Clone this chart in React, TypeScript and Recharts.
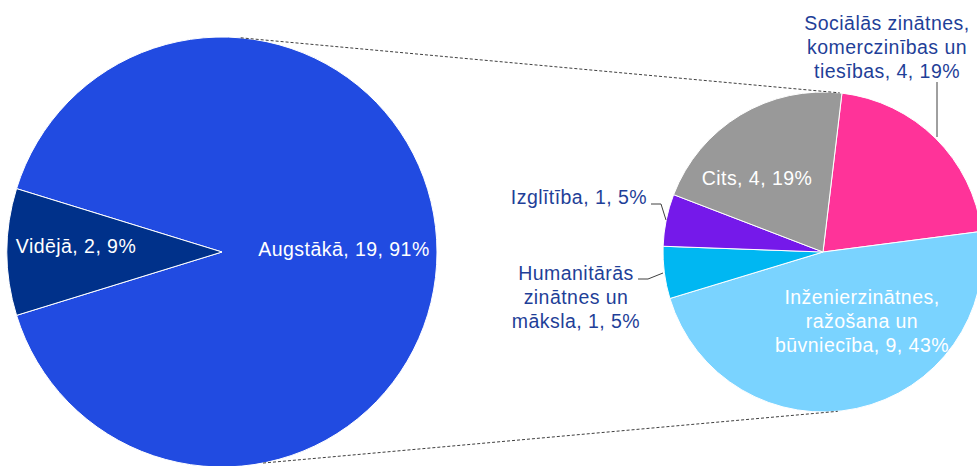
import React from 'react';
import { PieChart, Pie, Cell } from 'recharts';

// ---- data ----
const mainCategories = ['Augstākā', 'Vidējā'];
const mainValues = [19, 2];
const mainPercents = [91, 9];
const fieldCategories = [
  'Sociālās zinātnes, komerczinības un tiesības',
  'Inženierzinātnes, ražošana un būvniecība',
  'Humanitārās zinātnes un māksla',
  'Izglītība',
  'Cits',
];
const fieldValues = [4, 9, 1, 1, 4];
const fieldPercents = [19, 43, 5, 5, 19];
const fieldLabelLines = [
  ['Sociālās zinātnes,', 'komerczinības un', 'tiesības'],
  ['Inženierzinātnes,', 'ražošana un', 'būvniecība'],
  ['Humanitārās', 'zinātnes un', 'māksla'],
  ['Izglītība'],
  ['Cits'],
];

// ---- styles / layout ----
const W = 977;
const H = 466;
const FONT = '"Liberation Sans", Arial, sans-serif';
const NAVY_TEXT = '#1F3F98';
const mainColors = ['#214BE1', '#00318A'];
const fieldColors = ['#FF3399', '#7AD3FF', '#00B7F2', '#7519EA', '#999999'];
const MAIN = { cx: 222, cy: 252, r: 215 };
const SUB = { cx: 823, cy: 252, r: 160 };
const TOTAL = mainValues.reduce((a, b) => a + b, 0);
const SPLIT_INDEX = 1; // Vidējā is shown as a slice; Augstākā is broken down
const half = (180 * mainValues[SPLIT_INDEX]) / TOTAL;

// label placement relative to each pie centre
const mainLabelLayout = [
  { dx: 122, dy: 4, anchor: 'middle', color: '#FFFFFF' },
  { dx: -146, dy: 1, anchor: 'middle', color: '#FFFFFF' },
];
const fieldLabelLayout = [
  { dx: 64, dy: -222, anchor: 'middle', color: NAVY_TEXT, leader: [[114, -170], [114, -115]] },
  { dx: 39, dy: 52, anchor: 'middle', color: '#FFFFFF' },
  { dx: -247, dy: 28, anchor: 'middle', color: NAVY_TEXT, leader: [[-185, 27], [-175, 27], [-160, 21]] },
  { dx: -176, dy: -48, anchor: 'end', color: NAVY_TEXT, leader: [[-172, -48], [-162, -48], [-157, -32]] },
  { dx: -66, dy: -67, anchor: 'middle', color: '#FFFFFF' },
];
const LINE_H = 24;
const FS = 19.5;
const LS = 0.45;

const mainData = mainCategories.map((name, i) => ({ name, value: mainValues[i] }));
const fieldData = fieldCategories.map((name, i) => ({ name, value: fieldValues[i] }));

const renderMainLabel = (props: any) => {
  const i = props.index;
  const lay = mainLabelLayout[i];
  const v = mainValues[i];
  return (
    <text
      key={`ml-${i}`}
      x={MAIN.cx + lay.dx}
      y={MAIN.cy + lay.dy}
      textAnchor={lay.anchor}
      fill={lay.color}
      fontFamily={FONT}
      fontSize={FS}
      letterSpacing={LS}
    >
      {`${mainCategories[i]}, ${v}, ${mainPercents[i]}%`}
    </text>
  );
};

const renderFieldLabel = (props: any) => {
  const i = props.index;
  const lay: any = fieldLabelLayout[i];
  const v = fieldValues[i];
  const lines = fieldLabelLines[i].slice();
  lines[lines.length - 1] = `${lines[lines.length - 1]}, ${v}, ${fieldPercents[i]}%`;
  const x = SUB.cx + lay.dx;
  const y = SUB.cy + lay.dy;
  return (
    <g key={`fl-${i}`}>
      {lay.leader && (
        <polyline
          points={lay.leader.map((p: number[]) => `${SUB.cx + p[0]},${SUB.cy + p[1]}`).join(' ')}
          fill="none"
          stroke="#404040"
          strokeWidth={1}
        />
      )}
      <text
        x={x}
        y={y}
        textAnchor={lay.anchor}
        fill={lay.color}
        fontFamily={FONT}
        fontSize={FS}
        letterSpacing={LS}
      >
        {lines.map((ln, k) => (
          <tspan key={k} x={x} dy={k === 0 ? 0 : LINE_H}>
            {ln}
          </tspan>
        ))}
      </text>
    </g>
  );
};

const polar = (c: { cx: number; cy: number; r: number }, deg: number) => [
  c.cx + c.r * Math.cos((deg * Math.PI) / 180),
  c.cy - c.r * Math.sin((deg * Math.PI) / 180),
];

const connectors = [
  [polar(MAIN, 85), polar(SUB, 84)],
  [polar(MAIN, -79), polar(SUB, -84.7)],
];

export default function App() {
  return (
    <div style={{ position: 'absolute', left: 0, top: 0, width: W, height: H, background: '#fff', overflow: 'hidden' }}>
      <PieChart width={W} height={H} margin={{ top: 0, right: 0, bottom: 0, left: 0 }}>
        <Pie
          data={mainData}
          dataKey="value"
          nameKey="name"
          cx={MAIN.cx}
          cy={MAIN.cy}
          outerRadius={MAIN.r}
          startAngle={180 + half}
          endAngle={180 + half + 360}
          stroke="#FFFFFF"
          strokeWidth={1}
          label={renderMainLabel}
          labelLine={false}
          isAnimationActive={false}
        >
          {mainData.map((d, i) => (
            <Cell key={d.name} fill={mainColors[i]} />
          ))}
        </Pie>
        <Pie
          data={fieldData}
          dataKey="value"
          nameKey="name"
          cx={SUB.cx}
          cy={SUB.cy}
          outerRadius={SUB.r}
          startAngle={83.2}
          endAngle={83.2 - 360}
          stroke="#FFFFFF"
          strokeWidth={1}
          label={renderFieldLabel}
          labelLine={false}
          isAnimationActive={false}
        >
          {fieldData.map((d, i) => (
            <Cell key={d.name} fill={fieldColors[i]} />
          ))}
        </Pie>
      </PieChart>
      <svg width={W} height={H} style={{ position: 'absolute', left: 0, top: 0, pointerEvents: 'none' }}>
        {connectors.map((c, i) => (
          <line
            key={i}
            x1={c[0][0]}
            y1={c[0][1]}
            x2={c[1][0]}
            y2={c[1][1]}
            stroke="#404040"
            strokeWidth={1}
            strokeDasharray="3 2"
          />
        ))}
      </svg>
    </div>
  );
}
